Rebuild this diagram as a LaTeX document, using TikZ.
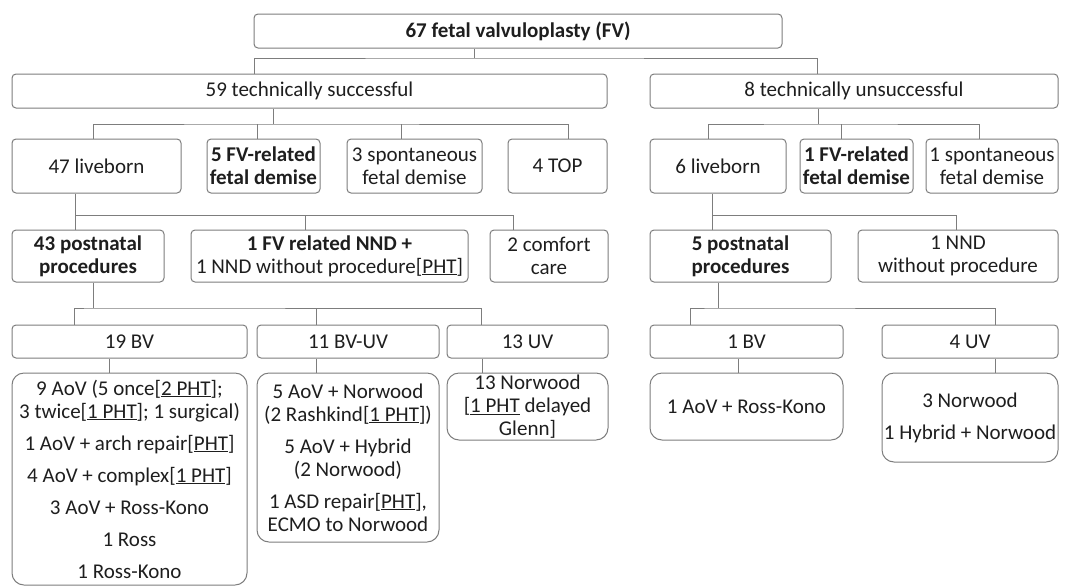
\documentclass[tikz,border=0pt]{standalone}
\usepackage{fontspec}
\setmainfont{Carlito}
\usetikzlibrary{calc}
\definecolor{linegray}{RGB}{125,125,125}
\definecolor{inkgray}{RGB}{30,30,30}
\tikzset{
  box/.style={draw=linegray,line width=1pt,rounded corners=4pt,align=center,text=inkgray,inner sep=1pt,font=\fontsize{21}{23}\selectfont},
  bigbox/.style={box,rounded corners=12pt},
  link/.style={draw=linegray,line width=1pt},
}

\begin{document}
\begin{tikzpicture}[x=1pt,y=-1pt]
\useasboundingbox (0,0) rectangle (1075,587);

% top
\node[box,minimum width=528pt,minimum height=34pt] (fv) at (518,31) {\textbf{67 fetal valvuloplasty (FV)}};

\node[box,minimum width=595pt,minimum height=34pt] (succ) at (309.5,91) {59 technically successful};
\node[box,minimum width=408pt,minimum height=34pt] (unsucc) at (854,91) {8 technically unsuccessful};

% outcome of pregnancy
\node[box,minimum width=169pt,minimum height=54pt] (live47) at (96.5,166) {47 liveborn};
\node[box,minimum width=113pt,minimum height=54pt] (fvdem5) at (263.5,166) {\textbf{5 FV-related}\\\textbf{fetal demise}};
\node[box,minimum width=135pt,minimum height=54pt] (spont3) at (414.5,166) {3 spontaneous\\fetal demise};
\node[box,minimum width=99pt,minimum height=54pt] (top4) at (557.5,166) {4 TOP};
\node[box,minimum width=136pt,minimum height=54pt] (live6) at (718,166) {6 liveborn};
\node[box,minimum width=113pt,minimum height=54pt] (fvdem1) at (856.5,166) {\textbf{1 FV-related}\\\textbf{fetal demise}};
\node[box,minimum width=132pt,minimum height=54pt] (spont1) at (992,166) {1 spontaneous\\fetal demise};

% postnatal
\node[box,minimum width=152pt,minimum height=52pt] (post43) at (88,256) {\textbf{43 postnatal}\\\textbf{procedures}};
\node[box,minimum width=277pt,minimum height=52pt] (nnd) at (329.5,256) {\textbf{1 FV related NND +}\\1 NND without procedure[\underline{PHT}]};
\node[box,minimum width=118pt,minimum height=52pt] (comfort) at (549,256) {2 comfort\\care};
\node[box,minimum width=181pt,minimum height=52pt] (post5) at (740.5,256) {\textbf{5 postnatal}\\\textbf{procedures}};
\node[box,minimum width=200pt,minimum height=52pt] (nnd1) at (958,256) {1 NND\\without procedure};

% circulation
\node[box,minimum width=235pt,minimum height=33pt] (bv19) at (129.5,341.5) {19 BV};
\node[box,minimum width=182pt,minimum height=33pt] (bvuv11) at (348,341.5) {11 BV-UV};
\node[box,minimum width=161pt,minimum height=33pt] (uv13) at (527.5,341.5) {13 UV};
\node[box,minimum width=193pt,minimum height=33pt] (bv1) at (746.5,341.5) {1 BV};
\node[box,minimum width=176pt,minimum height=33pt] (uv4) at (970,341.5) {4 UV};

% procedures
\node[bigbox,minimum width=235pt,minimum height=212pt] (bv19d) at (129.5,479) {9 AoV (5 once[\underline{2 PHT}];\\3 twice[\underline{1 PHT}]; 1 surgical)\\[9pt]1 AoV + arch repair[\underline{PHT}]\\[9pt]4 AoV + complex[\underline{1 PHT}]\\[9pt]3 AoV + Ross-Kono\\[9pt]1 Ross\\[9pt]1 Ross-Kono};
\node[bigbox,minimum width=182pt,minimum height=169pt] (bvuv11d) at (348,457.5) {5 AoV + Norwood\\(2 Rashkind[\underline{1 PHT}])\\[9pt]5 AoV + Hybrid\\(2 Norwood)\\[9pt]1 ASD repair[\underline{PHT}],\\ECMO to Norwood};
\node[bigbox,minimum width=161pt,minimum height=67pt] (uv13d) at (527.5,406.5) {13 Norwood\\{[}\underline{1 PHT} delayed\\Glenn]};
\node[bigbox,minimum width=193pt,minimum height=67pt] (bv1d) at (746.5,406.5) {1 AoV + Ross-Kono};
\node[bigbox,minimum width=176pt,minimum height=89pt] (uv4d) at (970,417.5) {3 Norwood\\[9pt]1 Hybrid + Norwood};

% connectors
\coordinate (j1) at (474,58);
\draw[link] (fv.south -| j1) -- (j1);
\draw[link] (succ.north -| 254,0) |- (j1) -| (unsucc.north -| 817,0);

\coordinate (j2) at (273,124);
\draw[link] (succ.south -| j2) -- (j2);
\draw[link] (live47.north -| 93,0) |- (j2) -| (top4.north -| 568,0);
\foreach \xx/\nn in {257/fvdem5,401/spont3}
  \draw[link] (\nn.north -| \xx,0) -- (j2 -| \xx,0);

\coordinate (j3) at (818,124);
\draw[link] (unsucc.south -| j3) -- (j3);
\draw[link] (live6.north -| 708,0) |- (j3) -| (spont1.north -| 979,0);
\draw[link] (fvdem1.north -| 841,0) -- (j3 -| 841,0);

\coordinate (j4) at (75,215);
\draw[link] (live47.south -| j4) -- (post43.north -| j4);
\draw[link] (j4) -| (comfort.north -| 513,0);
\draw[link] (nnd.north -| 305,0) -- (j4 -| 305,0);

\coordinate (j5) at (712,215);
\draw[link] (live6.south -| j5) -- (post5.north -| j5);
\draw[link] (j5) -| (nnd1.north -| 956,0);

\coordinate (j6) at (93,308);
\draw[link] (post43.south -| j6) -- (j6);
\draw[link] (bv19.north -| 74,0) |- (j6) -| (uv13.north -| 481,0);
\draw[link] (bvuv11.north -| 316,0) -- (j6 -| 316,0);

\coordinate (j7) at (718,308);
\draw[link] (post5.south -| j7) -- (j7);
\draw[link] (bv1.north -| 690,0) |- (j7) -| (uv4.north -| 995,0);

\foreach \xx/\aa/\bb in {109/bv19/bv19d,316/bvuv11/bvuv11d,482/uv13/uv13d,738/bv1/bv1d,995/uv4/uv4d}
  \draw[link] (\aa.south -| \xx,0) -- (\bb.north -| \xx,0);
\end{tikzpicture}
\end{document}
